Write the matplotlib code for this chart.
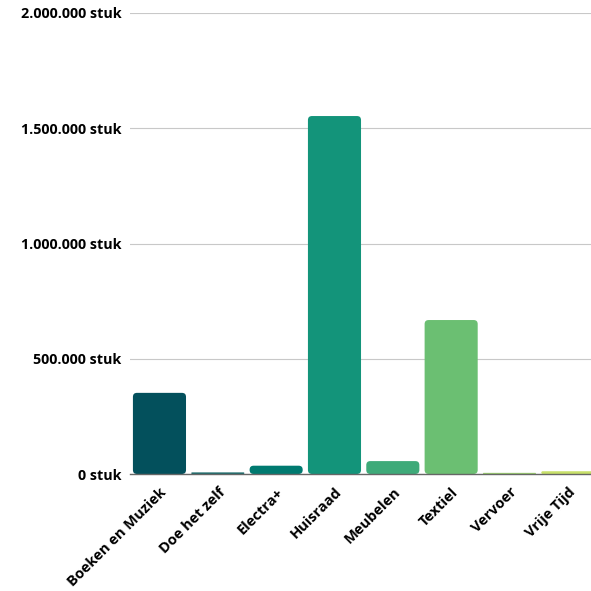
import matplotlib
matplotlib.use('Agg')
import matplotlib.pyplot as plt
from matplotlib.patches import FancyBboxPatch
from matplotlib.ticker import FuncFormatter

categories = ['Boeken en Muziek', 'Doe het zelf', 'Electra+', 'Huisraad',
              'Meubelen', 'Textiel', 'Vervoer', 'Vrije Tijd']
values = [352000, 7000, 36000, 1553000, 56000, 668000, 5000, 12000]
colors = ['#03505c', '#1d6b6c', '#007a70', '#13947a',
          '#3eaa79', '#6bbf72', '#9bcf6f', '#c8e06a']
yticks = [0, 500000, 1000000, 1500000, 2000000]

plt.rcParams['font.family'] = ['Open Sans', 'DejaVu Sans']

fig = plt.figure(figsize=(5.91, 5.91), dpi=100)
ax_w = 466.7
ax = fig.add_axes([130.3 / 591, 117 / 591, ax_w / 591, 461 / 591])

bars = ax.bar(range(len(categories)), values, width=0.91, color=colors)
ax.set_xlim(-0.5, len(categories) - 0.5)
ax.set_ylim(0, 2000000)

# rounded corners: swap the rectangles for fancy boxes
px_x = len(categories) / ax_w
px_y = 2000000 / 461.0
for b, c in zip(bars, colors):
    x, y = b.get_x(), b.get_y()
    w, h = b.get_width(), b.get_height()
    r = min(4 * px_x, h / px_y / 2 * px_x)
    p = FancyBboxPatch((x, y), w, h, boxstyle=f'round,pad=0,rounding_size={r}',
                       mutation_aspect=px_y / px_x, facecolor=c, edgecolor='none',
                       zorder=2)
    b.remove()
    ax.add_patch(p)

ax.set_yticks(yticks)
ax.yaxis.set_major_formatter(FuncFormatter(
    lambda v, pos: f'{int(v):,} stuk'.replace(',', '.')))
ax.grid(axis='y', color='#c8c8c8', linewidth=0.8, zorder=0)
ax.set_axisbelow(True)
for s in ['top', 'right', 'left']:
    ax.spines[s].set_visible(False)
ax.spines['bottom'].set_color('#666666')
ax.spines['bottom'].set_linewidth(1)
ax.tick_params(axis='y', length=0, pad=6.5)
ax.tick_params(axis='x', length=0, pad=8)
ax.set_xticks(range(len(categories)))
ax.set_xticklabels(categories, rotation=45, ha='right', rotation_mode='anchor',
                   fontweight='bold', fontsize=10.5)
for t in ax.get_yticklabels():
    t.set_fontweight('bold')
    t.set_fontsize(10.3)

fig.savefig('out.png', dpi=100)
